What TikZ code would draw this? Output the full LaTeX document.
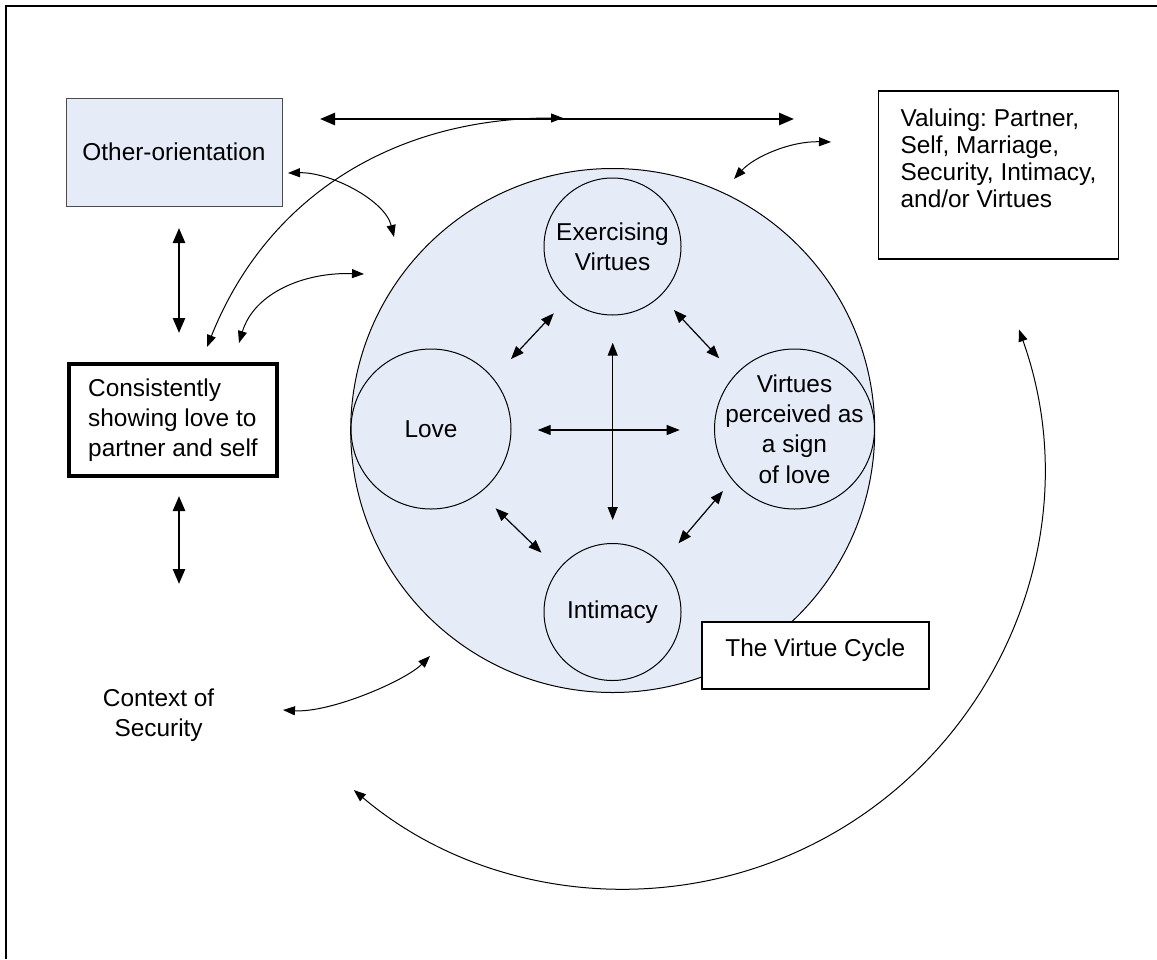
\documentclass[tikz,border=0pt]{standalone}
\usepackage{fontspec}
\setmainfont{Liberation Sans}
\usetikzlibrary{arrows.meta}
\definecolor{cyclefill}{RGB}{230,236,247}
\frenchspacing
\begin{document}
\begin{tikzpicture}[x=0.5pt,y=-0.5pt,
  every node/.style={font=\fontsize{12.2}{14.8}\selectfont},
  bluebox/.style={draw=black!70, line width=0.5pt, fill=cyclefill, minimum width=108pt, minimum height=54pt},
  thickbox/.style={draw, line width=2.25pt, align=left, minimum width=104pt, minimum height=56pt, inner sep=0pt},
  plainbox/.style={draw, line width=0.9pt, fill=white},
  stage/.style={circle, draw, line width=0.5pt, fill=cyclefill, align=center, inner sep=-8pt},
  bigarrow/.style={line width=1.25pt, {Triangle[length=7.5pt,width=6pt]}-{Triangle[length=7.5pt,width=6pt]}},
  curvearrow/.style={line width=0.5pt, {Triangle[length=6pt,width=4.5pt]}-{Triangle[length=6pt,width=4.5pt]}},
  innerarrow/.style={line width=0.6pt, {Triangle[length=6.5pt,width=5pt]}-{Triangle[length=6.5pt,width=5pt]}},
]
\useasboundingbox (0,0) rectangle (1157,959);
% frame
\draw[line width=1pt] (5.7,959) -- (5.7,5.7) -- (1157,5.7);

% big cycle circle
\node[circle, draw, line width=0.5pt, fill=cyclefill, minimum size=262pt, inner sep=0pt] (cycle) at (612.7,430.5) {};

% stages
\node[stage, minimum size=68.5pt] (exer) at (612.5,246.5) {Exercising\\Virtues};
\node[stage, minimum size=80pt] (love) at (431,429) {Love};
\node[stage, minimum size=80pt, font=\fontsize{12.2}{15.2}\selectfont] (perc) at (794.5,429) {Virtues\\perceived as\\a sign\\of love};
\node[stage, minimum size=68.5pt] (intim) at (612.5,612) {Intimacy};

\node[plainbox, minimum width=113.3pt, text height=17pt, text depth=16.5pt, inner ysep=0pt] (vcbox) at (815.3,655.5) {The Virtue Cycle};

% outer boxes
\node[bluebox] (other) at (174,152) {Other-orientation};
\node[thickbox, font=\fontsize{12.2}{15}\selectfont] (consist) at (173,420) {Consistently\\showing love to\\partner and self};
\node[plainbox, minimum width=120pt, minimum height=84pt] (valuing) at (998.5,175) {};
\node[anchor=north, align=left, inner sep=0pt, font=\fontsize{12.2}{13.6}\selectfont] (valtext) at (998.5,108) {Valuing: Partner,\\Self, Marriage,\\Security, Intimacy,\\and/or Virtues};
\node[align=center, inner sep=0pt, font=\fontsize{12.2}{15}\selectfont] (context) at (158.6,715) {Context of\\Security};

% free ends of connectors
\coordinate (topL) at (320,119);
\coordinate (topR) at (794,119);
\coordinate (v1a) at (179,228);
\coordinate (v1b) at (179,333);
\coordinate (v2a) at (179,496);
\coordinate (v2b) at (179,584);
\coordinate (longA) at (207,347);
\coordinate (longB) at (563,118);
\coordinate (ocA) at (288,173);
\coordinate (ocB) at (394,237);
\coordinate (ecA) at (239,343);
\coordinate (ecB) at (364,274);
\coordinate (vcA) at (734,179);
\coordinate (vcB) at (831,142);
\coordinate (ccA) at (283,710);
\coordinate (ccB) at (430,656);
\coordinate (arcA) at (1019,329.5);
\coordinate (leA) at (511,359);
\coordinate (leB) at (553.8,313.3);
\coordinate (epA) at (673.9,310);
\coordinate (epB) at (719.2,358.3);
\coordinate (liA) at (495.6,508.3);
\coordinate (liB) at (541.5,552.7);
\coordinate (piA) at (723,491);
\coordinate (piB) at (678.5,543.3);
\coordinate (hA) at (537.7,430);
\coordinate (hB) at (679.7,430);
\coordinate (vA) at (612.7,342.7);
\coordinate (vB) at (612.7,520);

% thick arrows
\draw[bigarrow] (topL) -- (topR);
\draw[bigarrow] (v1a) -- (v1b);
\draw[bigarrow] (v2a) -- (v2b);

% curved arrows
\draw[curvearrow] (longA) .. controls (267,197) and (393,118) .. (longB);
\draw[curvearrow] (ocA) .. controls (330,172) and (385,200) .. (ocB);
\draw[curvearrow] (ecA) .. controls (254,293) and (304,272) .. (ecB);
\draw[curvearrow] (vcA) .. controls (754,157) and (790,141) .. (vcB);
\draw[curvearrow] (ccA) .. controls (330,713) and (405,681) .. (ccB);
\draw[curvearrow] (arcA) arc[start angle=19.6, end angle=-130.2, radius=209.5pt];

% inner arrows
\draw[innerarrow] (leA) -- (leB);
\draw[innerarrow] (epA) -- (epB);
\draw[innerarrow] (liA) -- (liB);
\draw[innerarrow] (piA) -- (piB);
\draw[innerarrow] (hA) -- (hB);
\draw[innerarrow] (vA) -- (vB);
\end{tikzpicture}
\end{document}
